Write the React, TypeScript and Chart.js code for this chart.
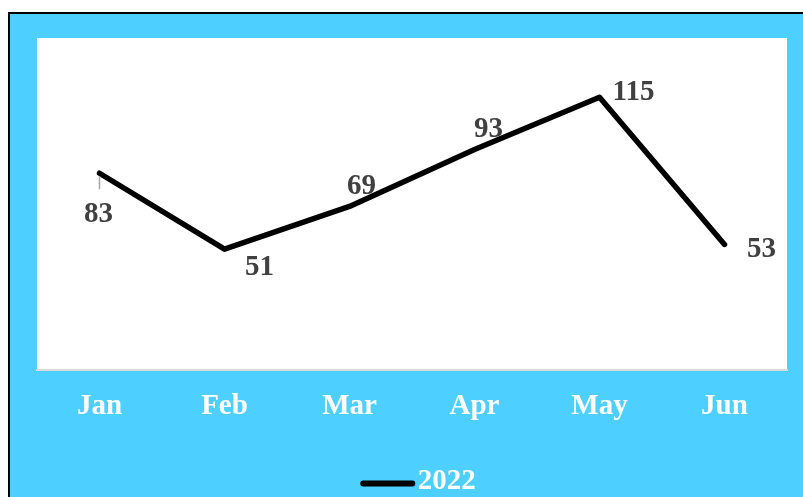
import React, { useEffect, useRef } from "react";
import { Chart, registerables } from "chart.js";

Chart.register(...registerables);

const categories = ["Jan", "Feb", "Mar", "Apr", "May", "Jun"];
const seriesName = "2022";
const values = [83, 51, 69, 93, 115, 53];
const yMin = 0;
const yMax = 140;

// label placement relative to each point (dx, dy) in px
const labelOffsets: [number, number][] = [
  [-1, 41],
  [35, 18],
  [12, -20],
  [14, -20],
  [34, -5],
  [37, 5],
];

const FONT = "'Liberation Serif', 'Times New Roman', serif";
const BG = "#4dcfff";
const FONT_SIZE = 29;
const LEGEND_BOX = 55;

const bgPlugin = {
  id: "bgPlugin",
  beforeDraw(chart: any) {
    const { ctx, chartArea, width, height } = chart;
    ctx.save();
    ctx.fillStyle = BG;
    ctx.fillRect(0, 0, width, height);
    ctx.fillStyle = "#ffffff";
    ctx.fillRect(chartArea.left, chartArea.top, chartArea.right - chartArea.left, chartArea.bottom - chartArea.top);
    ctx.restore();
  },
};

const labelPlugin = {
  id: "labelPlugin",
  afterDatasetsDraw(chart: any) {
    const { ctx } = chart;
    const meta = chart.getDatasetMeta(0);
    ctx.save();
    ctx.font = `bold ${FONT_SIZE}px ${FONT}`;
    ctx.fillStyle = "#404040";
    ctx.textAlign = "center";
    ctx.textBaseline = "middle";
    meta.data.forEach((pt: any, i: number) => {
      const [dx, dy] = labelOffsets[i];
      if (i === 0) {
        ctx.save();
        ctx.strokeStyle = "#a6a6a6";
        ctx.lineWidth = 1.5;
        ctx.beginPath();
        ctx.moveTo(pt.x, pt.y + 3);
        ctx.lineTo(pt.x, pt.y + 16);
        ctx.stroke();
        ctx.restore();
      }
      ctx.fillText(String(values[i]), pt.x + dx, pt.y + dy);
    });
    ctx.restore();
  },
};

// draws the legend line swatch closer to its text, like the reference
const legendLinePlugin = {
  id: "legendLinePlugin",
  afterDraw(chart: any) {
    const legend = chart.legend;
    if (!legend || !legend.legendHitBoxes || !legend.legendHitBoxes.length) return;
    const hb = legend.legendHitBoxes[0];
    const { ctx } = chart;
    const y = hb.top + hb.height / 2 + 2;
    const x0 = hb.left + 12 + 3;
    const x1 = hb.left + 12 + LEGEND_BOX - 3;
    ctx.save();
    ctx.strokeStyle = "#000000";
    ctx.lineWidth = 6;
    ctx.lineCap = "round";
    ctx.beginPath();
    ctx.moveTo(x0, y);
    ctx.lineTo(x1, y);
    ctx.stroke();
    ctx.restore();
  },
};

export default function App() {
  const ref = useRef<HTMLCanvasElement | null>(null);
  useEffect(() => {
    if (!ref.current) return;
    const chart = new Chart(ref.current, {
      type: "line",
      data: {
        labels: categories,
        datasets: [
          {
            label: seriesName,
            data: values,
            borderColor: "#000000",
            backgroundColor: "#000000",
            borderWidth: 5.5,
            borderCapStyle: "round",
            borderJoinStyle: "round",
            pointRadius: 0,
            pointHoverRadius: 0,
            pointStyle: "line",
            tension: 0,
          },
        ],
      },
      options: {
        responsive: false,
        animation: false,
        devicePixelRatio: 1,
        layout: { padding: { left: 27, right: 23, top: 24, bottom: 0 } },
        scales: {
          x: {
            offset: true,
            grid: { display: false },
            border: { display: true, color: "#d9d9d9", width: 2 },
            ticks: {
              color: "#ffffff",
              font: { family: FONT, size: FONT_SIZE, weight: "bold" },
              padding: 11,
              maxRotation: 0,
            },
          },
          y: {
            display: false,
            min: yMin,
            max: yMax,
          },
        },
        plugins: {
          legend: {
            position: "bottom",
            labels: {
              color: "#ffffff",
              font: { family: FONT, size: FONT_SIZE, weight: "bold" },
              usePointStyle: true,
              pointStyleWidth: LEGEND_BOX,
              boxHeight: 5,
              padding: 32,
              generateLabels: (chart: any) =>
                Chart.defaults.plugins.legend.labels.generateLabels(chart).map((item: any) => ({
                  ...item,
                  strokeStyle: "rgba(0,0,0,0)",
                  fillStyle: "rgba(0,0,0,0)",
                })),
            },
          },
          tooltip: { enabled: false },
        },
      },
      plugins: [bgPlugin, labelPlugin, legendLinePlugin],
    });
    return () => chart.destroy();
  }, []);
  return (
    <div
      style={{
        position: "fixed",
        left: 8,
        top: 12,
        borderTop: "2px solid #000",
        borderLeft: "2px solid #000",
        width: 800,
        height: 490,
        overflow: "hidden",
        background: BG,
      }}
    >
      <canvas ref={ref} width={800} height={492} style={{ display: "block", width: 800, height: 492 }} />
    </div>
  );
}
